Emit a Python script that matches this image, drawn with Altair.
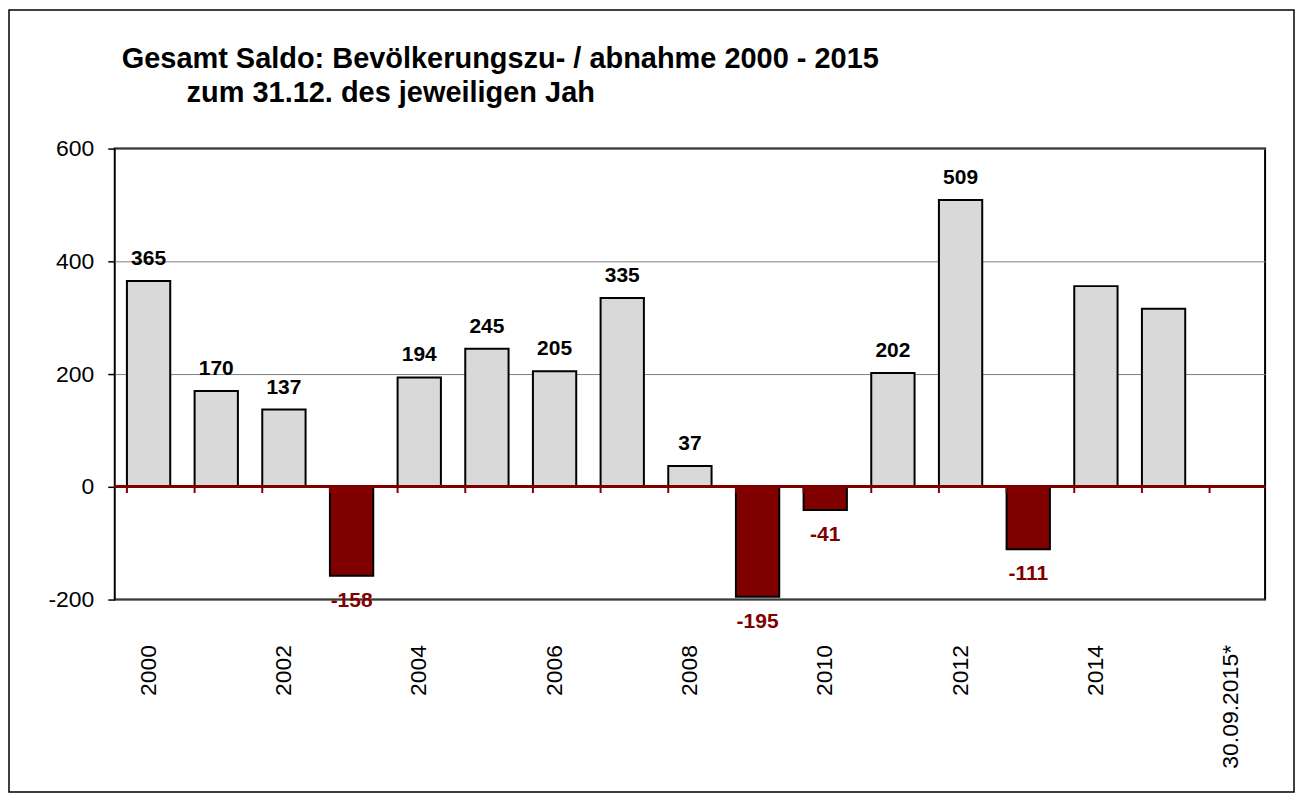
import altair as alt
import pandas as pd

# ---- data ----
categories = ["2000", "2001", "2002", "2003", "2004", "2005", "2006", "2007",
              "2008", "2009", "2010", "2011", "2012", "2013", "2014", "2015",
              "30.09.2015*"]
values = [365, 170, 137, -158, 194, 245, 205, 335, 37, -195, -41, 202, 509,
          -111, 356, 316, None]
value_labels = ["365", "170", "137", "-158", "194", "245", "205", "335", "37",
                "-195", "-41", "202", "509", "-111", "", "", ""]
shown_ticks = ["2000", "2002", "2004", "2006", "2008", "2010", "2012", "2014",
               "30.09.2015*"]
y_ticks = [-200, 0, 200, 400, 600]
title_lines = ["Gesamt Saldo: Bevölkerungszu- / abnahme 2000 - 2015",
               "zum 31.12. des jeweiligen Jah"]

df = pd.DataFrame({"cat": categories, "val": values, "lab": value_labels})

FONT = "Liberation Sans"
W, H = 1153, 452
DARK_RED = "#800000"

x_axis = alt.Axis(values=shown_ticks, labelAngle=-90, labelAlign="right",
                  labelBaseline="middle", labelPadding=45, labelFontSize=23,
                  labelFont=FONT, labelColor="#000000", ticks=False,
                  domain=False, grid=False, title=None)
y_axis = alt.Axis(values=y_ticks, labelFontSize=23, labelFont=FONT,
                  labelColor="#000000", labelPadding=14, tickSize=7,
                  tickColor="#000000", tickWidth=1.5, domain=False, grid=True,
                  gridColor="#808080", gridWidth=1, title=None,
                  labelExpr="'' + datum.value")
x_scale = alt.Scale(domain=categories, paddingInner=0.36, paddingOuter=0.18)
y_scale = alt.Scale(domain=[-200, 600], nice=False, zero=False)

X = alt.X("cat:N", sort=categories, scale=x_scale, axis=x_axis)
Y = alt.Y("val:Q", scale=y_scale, axis=y_axis)

bars = alt.Chart(df).mark_bar(stroke="#000000", strokeWidth=2).encode(
    x=X, y=Y,
    fill=alt.condition("datum.val < 0", alt.value(DARK_RED), alt.value("#D9D9D9")),
)

pos_labels = alt.Chart(df).transform_filter("datum.val >= 0").mark_text(
    font=FONT, fontSize=21, fontWeight="bold", color="#000000",
    baseline="alphabetic", dy=-16,
).encode(x=X, y=Y, text="lab:N")

neg_labels = alt.Chart(df).transform_filter("datum.val < 0").mark_text(
    font=FONT, fontSize=21, fontWeight="bold", color=DARK_RED,
    baseline="top", dy=14,
).encode(x=X, y=Y, text="lab:N")

zero_line = alt.Chart(df).mark_rule(color=DARK_RED, strokeWidth=2.5).encode(
    y=alt.datum(0, scale=y_scale)
)

zero_ticks = alt.Chart(df).mark_rule(color=DARK_RED, strokeWidth=2).encode(
    x=alt.X("cat:N", sort=categories, scale=x_scale, axis=x_axis, bandPosition=0),
    y=alt.datum(0, scale=y_scale),
    y2=alt.datum(-11),
)

title1 = alt.Chart(pd.DataFrame({"t": [title_lines[0]]})).mark_text(
    font=FONT, fontSize=29, fontWeight="bold", color="#000000",
    align="left", baseline="alphabetic",
).encode(x=alt.value(7), y=alt.value(-81), text="t:N")

title2 = alt.Chart(pd.DataFrame({"t": [title_lines[1]]})).mark_text(
    font=FONT, fontSize=29, fontWeight="bold", color="#000000",
    align="left", baseline="alphabetic",
).encode(x=alt.value(72), y=alt.value(-47), text="t:N")

frame = alt.Chart(pd.DataFrame({"f": [0]})).mark_rect(
    fillOpacity=0, stroke="#000000", strokeWidth=1.5
).encode(x=alt.value(-106), x2=alt.value(1182), y=alt.value(-139), y2=alt.value(645))

chart = alt.layer(
    frame, bars, zero_line, zero_ticks, pos_labels, neg_labels, title1, title2
).properties(
    width=W, height=H,
    padding={"left": 107, "top": 140, "right": 31, "bottom": 193},
    autosize=alt.AutoSizeParams(type="none"),
    background="#ffffff",
).configure_view(stroke="#000000", strokeWidth=2)

chart.save("out.html", embed_options={"renderer": "svg", "actions": False})
